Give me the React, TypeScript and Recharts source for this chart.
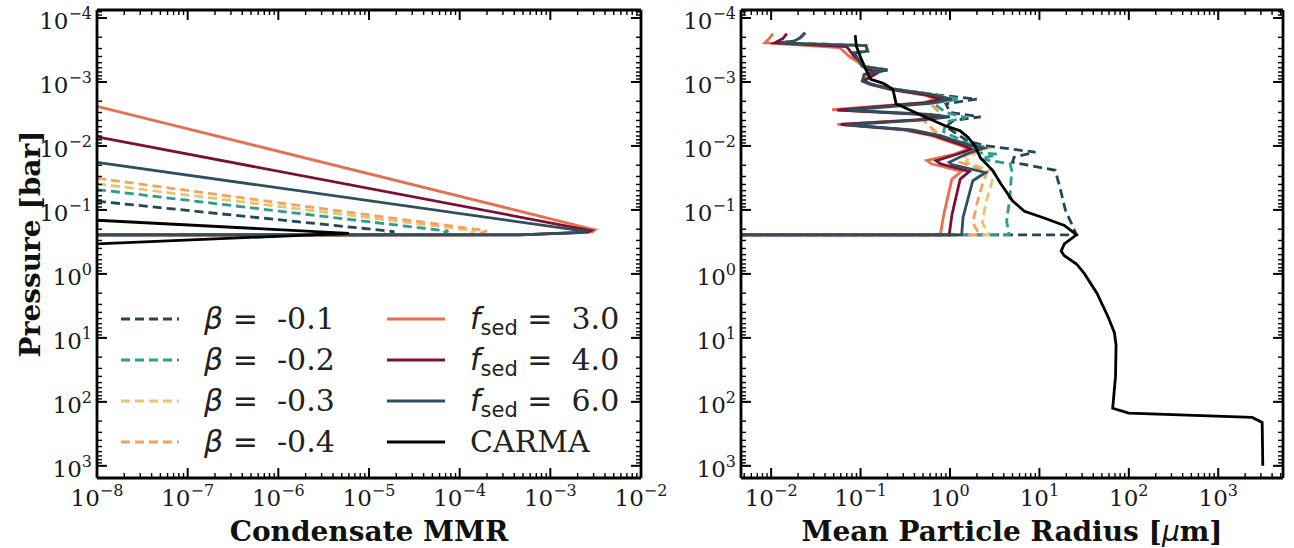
import React from 'react';
import { LineChart, Line, XAxis, YAxis, Legend } from 'recharts';

// ---- axes ----
const P_DOMAIN = [7.5e-5, 1.55e3];
const MMR_DOMAIN = [1e-8, 1e-2];
const RAD_DOMAIN = [4.6e-3, 5.3e3];
const MANTISSAS = [1, 2, 3, 4, 5, 6, 7, 8, 9];

const SERIF = '"DejaVu Serif", serif';
const SANS = '"DejaVu Sans", sans-serif';

// ---- left panel: condensate MMR vs pressure [mmr, bar] ----
const mmrBeta1 = [[1e-8, 7.3e-2], [1.9e-5, 0.218], [1.4e-5, 0.245], [1e-8, 0.245]];
const mmrBeta2 = [[1e-8, 4.8e-2], [7.5e-5, 0.215], [5.5e-5, 0.245], [1e-8, 0.245]];
const mmrBeta3 = [[1e-8, 3.9e-2], [1.5e-4, 0.213], [1.1e-4, 0.245], [1e-8, 0.245]];
const mmrBeta4 = [[1e-8, 3.2e-2], [2.0e-4, 0.212], [1.5e-4, 0.245], [1e-8, 0.245]];
const mmrF3 = [[1e-8, 2.4e-3], [3.1e-3, 0.205], [2.9e-3, 0.22], [4.6e-4, 0.245], [1e-8, 0.245]];
const mmrF4 = [[1e-8, 7.2e-3], [2.8e-3, 0.21], [2.6e-3, 0.222], [4.6e-4, 0.245], [1e-8, 0.245]];
const mmrF6 = [[1e-8, 1.8e-2], [2.4e-3, 0.215], [2.2e-3, 0.226], [4.6e-4, 0.245], [1e-8, 0.245]];
const mmrCarma = [[1e-8, 0.145], [6e-6, 0.232], [1e-8, 0.34]];

// ---- right panel: mean particle radius vs pressure [um, bar] ----
const radTop = [
  [0.024, 1.7e-4], [0.021, 2.05e-4], [0.018, 2.3e-4], [0.0125, 2.45e-4], [0.115, 2.7e-4],
  [0.12, 3.3e-4], [0.085, 3.5e-4], [0.105, 5.7e-4], [0.2, 6.5e-4], [0.11, 7.6e-4],
  [0.105, 9.8e-4], [0.135, 1.1e-3], [0.24, 1.3e-3], [0.6, 1.55e-3],
];
const radBeta1 = [
  ...radTop, [2.0, 1.85e-3], [0.9, 2.2e-3], [1.0, 3.0e-3], [2.2, 3.5e-3], [1.1, 4.0e-3],
  [0.9, 5.0e-3], [1.6, 8.5e-3], [2.6, 1.0e-2], [9.0, 1.25e-2], [5.2, 1.5e-2], [5.0, 1.8e-2],
  [15, 2.4e-2], [17, 4.5e-2], [19.5, 0.1], [26, 0.245], [0.004, 0.245],
];
const radBeta2 = [
  ...radTop, [1.3, 1.85e-3], [0.65, 2.15e-3], [0.9, 3.0e-3], [1.5, 3.6e-3], [0.9, 4.2e-3],
  [0.85, 6.0e-3], [1.7, 9.5e-3], [2.6, 1.05e-2], [1.8, 1.25e-2], [3.4, 1.35e-2], [2.2, 1.6e-2],
  [4.7, 1.9e-2], [4.9, 2.4e-2], [4.7, 6e-2], [4.3, 0.15], [4.6, 0.245], [0.004, 0.245],
];
const radBeta3 = [
  ...radTop, [1.05, 1.85e-3], [0.6, 2.15e-3], [0.8, 3.2e-3], [0.5, 3.9e-3], [0.78, 6.9e-3],
  [1.6, 9.6e-3], [2.6, 1.1e-2], [1.7, 1.4e-2], [1.5, 1.8e-2], [3.1, 2.5e-2], [2.9, 4e-2],
  [2.5, 8e-2], [2.3, 0.16], [2.7, 0.23], [2.7, 0.245], [0.004, 0.245],
];
const radBeta4 = [
  ...radTop, [1.05, 1.85e-3], [0.6, 2.15e-3], [0.8, 3.2e-3], [0.5, 3.9e-3], [0.75, 6.9e-3],
  [1.5, 9.6e-3], [2.3, 1.1e-2], [1.5, 1.4e-2], [1.3, 1.8e-2], [2.6, 2.5e-2], [2.3, 4e-2],
  [2.0, 8e-2], [1.8, 0.16], [2.1, 0.23], [2.1, 0.245], [0.004, 0.245],
];
const radF3 = [
  [0.0105, 1.75e-4], [0.0095, 2.1e-4], [0.0085, 2.45e-4], [0.058, 2.9e-4], [0.075, 4.0e-4],
  [0.092, 4.8e-4], [0.115, 6.4e-4], [0.14, 7.3e-4], [0.105, 9.6e-4], [0.125, 1.08e-3],
  [0.21, 1.3e-3], [0.52, 1.6e-3], [0.7, 1.85e-3], [0.5, 2.1e-3], [0.048, 2.7e-3],
  [0.45, 3.2e-3], [0.72, 3.5e-3], [0.4, 3.9e-3], [0.055, 4.6e-3], [0.3, 5.6e-3],
  [0.62, 6.9e-3], [1.25, 9.6e-3], [1.6, 1.12e-2], [1.1, 1.35e-2], [0.55, 1.68e-2],
  [0.62, 1.9e-2], [1.35, 2.5e-2], [1.05, 3.3e-2], [0.85, 0.12], [0.78, 0.245], [0.004, 0.245],
];
const radF4 = [
  [0.015, 1.75e-4], [0.0135, 2.1e-4], [0.011, 2.45e-4], [0.07, 2.8e-4], [0.085, 4.0e-4],
  [0.1, 4.8e-4], [0.12, 6.4e-4], [0.16, 7.0e-4], [0.11, 9.5e-4], [0.13, 1.08e-3],
  [0.22, 1.3e-3], [0.55, 1.6e-3], [0.8, 1.85e-3], [0.55, 2.1e-3], [0.055, 2.75e-3],
  [0.5, 3.2e-3], [0.8, 3.5e-3], [0.45, 3.9e-3], [0.06, 4.6e-3], [0.33, 5.6e-3],
  [0.68, 6.9e-3], [1.35, 9.6e-3], [1.75, 1.12e-2], [1.2, 1.35e-2], [0.7, 1.7e-2],
  [0.78, 1.9e-2], [1.65, 2.5e-2], [1.3, 3.3e-2], [1.05, 0.12], [0.98, 0.245], [0.004, 0.245],
];
const radF6 = [
  ...radTop, [1.05, 1.85e-3], [0.6, 2.15e-3], [0.072, 2.75e-3], [0.6, 3.2e-3], [1.0, 3.5e-3],
  [0.5, 3.9e-3], [0.07, 4.7e-3], [0.38, 5.6e-3], [0.78, 6.9e-3], [1.6, 9.6e-3], [2.4, 1.08e-2],
  [1.5, 1.35e-2], [0.98, 1.8e-2], [1.05, 1.95e-2], [2.5, 2.6e-2], [1.8, 3.5e-2], [1.4, 0.13],
  [1.35, 0.245], [0.004, 0.245],
];
const radCarma = [
  [0.087, 1.85e-4], [0.09, 2.8e-4], [0.1, 4.1e-4], [0.117, 6.8e-4], [0.13, 9.1e-4], [0.18, 1.05e-3],
  [0.23, 1.3e-3], [0.25, 2.2e-3], [0.28, 2.35e-3], [0.52, 3.5e-3], [0.87, 4.8e-3], [1.3, 5.8e-3],
  [1.6, 7.4e-3], [1.9, 1.0e-2], [2.2, 1.55e-2], [3.0, 2.4e-2], [3.7, 3.9e-2], [5.0, 7.2e-2],
  [6.8, 0.105], [11.5, 0.135], [19, 0.175], [26, 0.245], [19, 0.34], [17.5, 0.44], [19, 0.52],
  [26, 0.7], [32, 1.0], [44, 2.0], [59, 4.8], [69, 8.3], [72, 13], [71, 40], [66, 126],
  [100, 150], [2400, 175], [3100, 210], [3150, 1000],
];

// ---- series styling / legend ----
const DASH = '9 5';
const SERIES = [
  { key: 'b1', kind: 'beta', value: '-0.1', color: '#264653', dash: DASH, mmr: mmrBeta1, rad: radBeta1 },
  { key: 'b2', kind: 'beta', value: '-0.2', color: '#2a9d8f', dash: DASH, mmr: mmrBeta2, rad: radBeta2 },
  { key: 'b3', kind: 'beta', value: '-0.3', color: '#e9c46a', dash: DASH, mmr: mmrBeta3, rad: radBeta3 },
  { key: 'b4', kind: 'beta', value: '-0.4', color: '#f4a261', dash: DASH, mmr: mmrBeta4, rad: radBeta4 },
  { key: 'f3', kind: 'fsed', value: '3.0', color: '#e76f51', dash: undefined, mmr: mmrF3, rad: radF3 },
  { key: 'f4', kind: 'fsed', value: '4.0', color: '#7a1035', dash: undefined, mmr: mmrF4, rad: radF4 },
  { key: 'f6', kind: 'fsed', value: '6.0', color: '#2f4f5e', dash: undefined, mmr: mmrF6, rad: radF6 },
  { key: 'carma', kind: 'carma', value: 'CARMA', color: '#000000', dash: undefined, mmr: mmrCarma, rad: radCarma },
];

const toPts = (arr: number[][]) => arr.map(([x, p]) => ({ x, p }));

function logTicks(domain: number[]) {
  const out: number[] = [];
  const e0 = Math.floor(Math.log10(domain[0]));
  const e1 = Math.ceil(Math.log10(domain[1]));
  for (let e = e0; e <= e1; e++) {
    for (const m of MANTISSAS) {
      const v = m * Math.pow(10, e);
      if (v >= domain[0] * 0.9999 && v <= domain[1] * 1.0001) out.push(v);
    }
  }
  return out;
}

function LogTick(props: any) {
  const { x, y, payload, side, label } = props;
  const v = payload.value;
  const e = Math.floor(Math.log10(v) + 1e-9);
  const major = Math.round(v / Math.pow(10, e)) === 1;
  const len = major ? 10 : 5;
  let x2 = x;
  let y2 = y;
  if (side === 'bottom') y2 = y - len;
  else if (side === 'top') y2 = y + len;
  else if (side === 'left') x2 = x + len;
  else x2 = x - len;
  const exp = e < 0 ? `\u2212${-e}` : `${e}`;
  const text = (
    <>
      <tspan>10</tspan>
      <tspan dy={-10} fontSize={16}>{exp}</tspan>
    </>
  );
  return (
    <g>
      <line x1={x} y1={y} x2={x2} y2={y2} stroke="#000" strokeWidth={major ? 2 : 1.4} />
      {major && label && side === 'bottom' && (
        <text x={x} y={y + 28} textAnchor="middle" fontFamily={SERIF} fontSize={23} fill="#1a1a1a">{text}</text>
      )}
      {major && label && side === 'left' && (
        <text x={x - 5} y={y + 11} textAnchor="end" fontFamily={SERIF} fontSize={23} fill="#1a1a1a">{text}</text>
      )}
    </g>
  );
}

const AXIS_LINE = { stroke: '#000', strokeWidth: 2.8 };

function xTitle(content: React.ReactNode) {
  return (props: any) => {
    const vb = props.viewBox || { x: 0, y: 0, width: 0, height: 0 };
    return (
      <text x={vb.x + vb.width / 2} y={vb.y + vb.height - 7} textAnchor="middle" fontFamily={SERIF} fontWeight="bold" fontSize={28} fill="#111">
        {content}
      </text>
    );
  };
}

function yTitle(content: React.ReactNode) {
  return (props: any) => {
    const vb = props.viewBox || { x: 0, y: 0, width: 0, height: 0 };
    const cx = vb.x + 40;
    const cy = vb.y + vb.height / 2;
    return (
      <text x={cx} y={cy} transform={`rotate(-90, ${cx}, ${cy})`} textAnchor="middle" fontFamily={SERIF} fontWeight="bold" fontSize={28} fill="#111">
        {content}
      </text>
    );
  };
}

function seriesLabel(s: any) {
  if (s.kind === 'beta') {
    return (
      <>
        <span style={{ fontFamily: SANS, fontStyle: 'italic' }}>β</span>
        <span style={{ fontFamily: SANS }}> = </span>
        <span style={{ fontFamily: SERIF }}> {s.value}</span>
      </>
    );
  }
  if (s.kind === 'fsed') {
    return (
      <>
        <span style={{ fontFamily: SANS, fontStyle: 'italic' }}>f</span>
        <span style={{ fontFamily: SANS, fontSize: '0.7em', position: 'relative', top: '0.3em' }}>sed</span>
        <span style={{ fontFamily: SANS }}> = </span>
        <span style={{ fontFamily: SERIF }}> {s.value}</span>
      </>
    );
  }
  return <span style={{ fontFamily: SERIF }}>{s.value}</span>;
}

function LegendBox() {
  const row = (s: any) => (
    <div key={s.key} style={{ display: 'flex', alignItems: 'center', height: 41 }}>
      <svg width={60} height={20}>
        <line x1={1} y1={10} x2={59} y2={10} stroke={s.color} strokeWidth={3} strokeDasharray={s.dash} />
      </svg>
      <span style={{ marginLeft: 24, fontSize: 30, lineHeight: 1, whiteSpace: 'pre', color: '#222' }}>{seriesLabel(s)}</span>
    </div>
  );
  return (
    <div style={{ display: 'flex' }}>
      <div style={{ width: 266 }}>{SERIES.filter((s) => s.kind === 'beta').map(row)}</div>
      <div>{SERIES.filter((s) => s.kind !== 'beta').map(row)}</div>
    </div>
  );
}

function Panel(props: any) {
  const { width, leftW, rightW, xDomain, field, xLabel, yLabel, legend } = props;
  const xt = logTicks(xDomain);
  const yt = logTicks(P_DOMAIN);
  return (
    <LineChart width={width} height={548} margin={{ top: 0, right: 0, bottom: 0, left: 0 }}>
      <XAxis xAxisId={0} dataKey="x" type="number" scale="log" domain={xDomain} allowDataOverflow ticks={xt} interval={0}
        height={70} tickSize={0} tickMargin={0} tickLine={false} axisLine={AXIS_LINE}
        tick={<LogTick side="bottom" label />} label={xTitle(xLabel)} />
      <XAxis xAxisId="top" orientation="top" dataKey="x" type="number" scale="log" domain={xDomain} allowDataOverflow ticks={xt} interval={0}
        height={10} tickSize={0} tickMargin={0} tickLine={false} axisLine={AXIS_LINE} tick={<LogTick side="top" />} />
      <YAxis yAxisId={0} type="number" scale="log" domain={P_DOMAIN} reversed allowDataOverflow ticks={yt} interval={0}
        width={leftW} tickSize={0} tickMargin={0} tickLine={false} axisLine={AXIS_LINE}
        tick={<LogTick side="left" label />} label={yLabel ? yTitle(yLabel) : undefined} />
      <YAxis yAxisId="right" orientation="right" type="number" scale="log" domain={P_DOMAIN} reversed allowDataOverflow ticks={yt} interval={0}
        width={rightW} tickSize={0} tickMargin={0} tickLine={false} axisLine={AXIS_LINE} tick={<LogTick side="right" />} />
      {SERIES.map((s) => (
        <Line key={s.key} xAxisId={0} yAxisId={0} data={toPts(s[field])} dataKey="p" name={s.key} type="linear"
          stroke={s.color} strokeWidth={2.8} strokeDasharray={s.dash} dot={false} activeDot={false}
          isAnimationActive={false} />
      ))}
      {legend && (
        <Legend layout="vertical" align="center" verticalAlign="middle" content={<LegendBox />}
          wrapperStyle={{ left: 120, top: 298, width: 520 }} />
      )}
    </LineChart>
  );
}

export default function App() {
  return (
    <div style={{ position: 'absolute', left: 0, top: 0, width: 1294, height: 548, background: '#fff' }}>
      <div style={{ position: 'absolute', left: 0, top: 0 }}>
        <Panel width={680} leftW={97} rightW={39} xDomain={MMR_DOMAIN} field="mmr" xLabel="Condensate MMR" yLabel="Pressure [bar]" legend />
      </div>
      <div style={{ position: 'absolute', left: 660, top: 0 }}>
        <Panel width={634} leftW={81} rightW={11} xDomain={RAD_DOMAIN} field="rad"
          xLabel={<>Mean Particle Radius [<tspan fontFamily={SANS} fontStyle="italic" fontWeight="normal">μ</tspan>m]</>} />
      </div>
    </div>
  );
}
